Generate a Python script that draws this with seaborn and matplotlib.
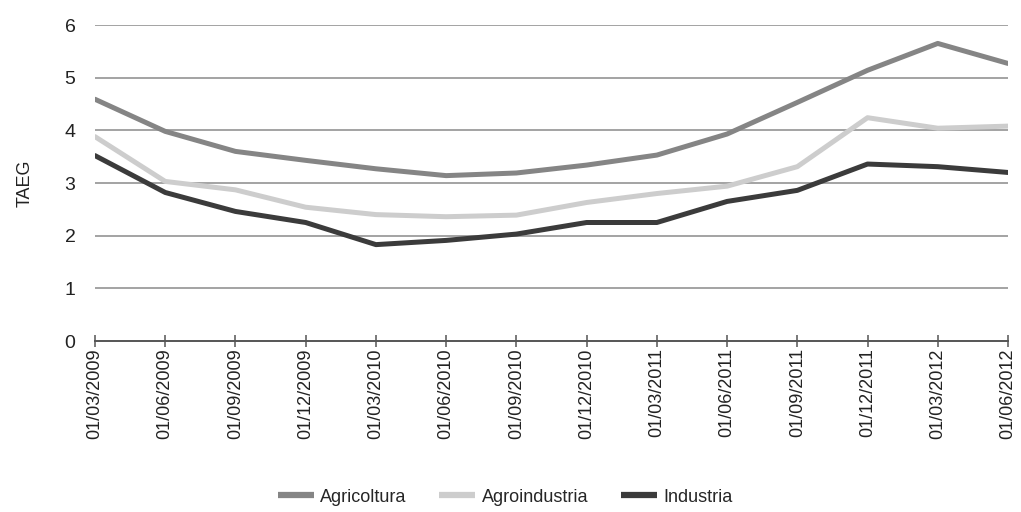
import matplotlib
matplotlib.use("Agg")
import matplotlib.pyplot as plt
import seaborn as sns
import pandas as pd

dates = ["01/03/2009", "01/06/2009", "01/09/2009", "01/12/2009",
         "01/03/2010", "01/06/2010", "01/09/2010", "01/12/2010",
         "01/03/2011", "01/06/2011", "01/09/2011", "01/12/2011",
         "01/03/2012", "01/06/2012"]
agricoltura = [4.59, 3.98, 3.60, 3.43, 3.27, 3.14, 3.19, 3.34,
               3.53, 3.93, 4.53, 5.14, 5.65, 5.27]
agroindustria = [3.88, 3.03, 2.87, 2.54, 2.40, 2.36, 2.39, 2.63,
                 2.80, 2.94, 3.31, 4.24, 4.04, 4.08]
industria = [3.52, 2.82, 2.46, 2.25, 1.83, 1.91, 2.03, 2.25,
             2.25, 2.65, 2.86, 3.36, 3.31, 3.20]
series_names = ["Agricoltura", "Agroindustria", "Industria"]
palette = {"Agricoltura": "#858585", "Agroindustria": "#cdcdcd", "Industria": "#3b3b3b"}

sns.set_style("white")
plt.rcParams["font.family"] = ["Liberation Sans", "DejaVu Sans"]

rows = []
for name, vals in zip(series_names, [agricoltura, agroindustria, industria]):
    for i, v in enumerate(vals):
        rows.append({"idx": i, "TAEG": v, "serie": name})
df = pd.DataFrame(rows)

fig = plt.figure(figsize=(10.21, 5.12), dpi=100)
ax = fig.add_axes([95 / 1021, 1 - 341 / 512, (1008 - 95) / 1021, (341 - 25) / 512])

for y in range(1, 7):
    ax.axhline(y, color="#8a8a8a", linewidth=1.1, zorder=0)

sns.lineplot(data=df, x="idx", y="TAEG", hue="serie", hue_order=series_names,
             palette=palette, linewidth=3.6, ax=ax, legend=True)

ax.set_xlim(0, len(dates) - 1)
ax.set_ylim(0, 6)
ax.set_xticks(range(len(dates)))
ax.set_xticklabels(dates, rotation=90, fontsize=13, color="#222222")
ax.set_yticks(range(0, 7))
ax.set_yticklabels([str(v) for v in range(0, 7)], fontsize=14, color="#222222")
ax.tick_params(axis="x", bottom=True, direction="inout", length=8.6, width=1.1,
               color="#555555", pad=1)
ax.tick_params(axis="y", left=False, length=0, pad=14)
ax.set_xlabel("")
ax.set_ylabel("TAEG", fontsize=13, color="#222222", labelpad=22)

for side in ["left", "right", "top"]:
    ax.spines[side].set_visible(False)
ax.spines["bottom"].set_color("#555555")
ax.spines["bottom"].set_linewidth(1.4)

handles, labels = ax.get_legend_handles_labels()
ax.get_legend().remove()
leg = fig.legend(handles, labels, loc="center", bbox_to_anchor=(505 / 1021, 1 - 497 / 512),
                 ncol=3, frameon=False, fontsize=13, handlelength=2.0, handletextpad=0.35,
                 columnspacing=1.8)
for line in leg.get_lines():
    line.set_linewidth(4.5)
    line.set_solid_capstyle("butt")

fig.savefig("out.png", dpi=100)
